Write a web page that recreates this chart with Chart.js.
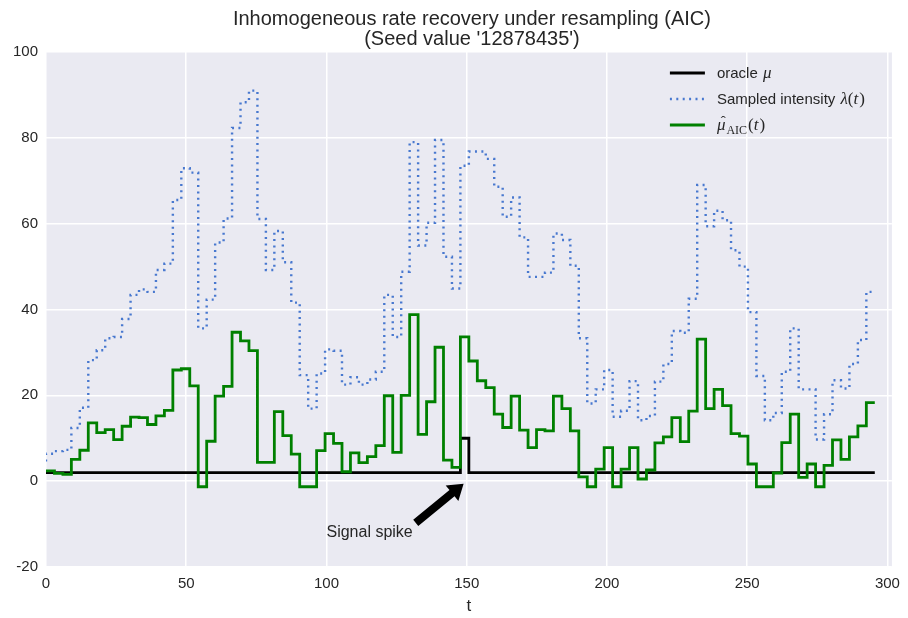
<!DOCTYPE html>
<html>
<head>
<meta charset="utf-8">
<script src="https://cdn.jsdelivr.net/npm/chart.js@4.4.1/dist/chart.umd.min.js"></script>
<style>
  html, body { margin: 0; padding: 0; background: #ffffff; }
  #wrap { width: 908px; height: 618px; position: relative; }
</style>
</head>
<body>
<div id="wrap"><canvas id="chart" width="908" height="618"></canvas></div>
<script>
// ---- time grid: 98 equal bins on [0, T_END] ----
const T_END = 295.5;
const N_BINS = 98;

// ---- axis ranges and ticks ----
const X_RANGE = [0, 301.6];
const Y_RANGE = [-20, 100];
const xTickValues = [0, 50, 100, 150, 200, 250, 300];
const yTickValues = [-20, 0, 20, 40, 60, 80, 100];

// ---- series: value at each bin edge (first entry is the starting point,
//      entry i holds the level over bin i-1) ----
const oracleMu = [
  2, 2, 2, 2, 2, 2, 2, 2, 2, 2,
  2, 2, 2, 2, 2, 2, 2, 2, 2, 2,
  2, 2, 2, 2, 2, 2, 2, 2, 2, 2,
  2, 2, 2, 2, 2, 2, 2, 2, 2, 2,
  2, 2, 2, 2, 2, 2, 2, 2, 2, 2,
  10, 2, 2, 2, 2, 2, 2, 2, 2, 2,
  2, 2, 2, 2, 2, 2, 2, 2, 2, 2,
  2, 2, 2, 2, 2, 2, 2, 2, 2, 2,
  2, 2, 2, 2, 2, 2, 2, 2, 2, 2,
  2, 2, 2, 2, 2, 2, 2, 2, 2
];

const sampledIntensity = [
  4.6,
  6.4, 7.0, 7.3, 12.4, 17.1, 28.2, 30.5, 33.3, 33.6, 37.8,
  43.4, 44.7, 44.1, 49.2, 50.7, 65.5, 72.9, 71.9, 35.6, 42.3,
  55.6, 61.2, 82.3, 88.3, 91.0, 61.1, 49.2, 58.3, 51.0, 41.6,
  24.7, 16.9, 25.1, 30.7, 30.4, 22.5, 24.2, 22.5, 23.7, 25.5,
  43.4, 33.6, 48.8, 79.0, 54.9, 60.2, 79.5, 52.3, 44.9, 73.5,
  76.8, 76.8, 75.1, 68.6, 61.6, 66.1, 56.8, 47.6, 47.6, 48.6,
  57.7, 56.2, 50.2, 33.3, 18.1, 21.4, 25.9, 15.0, 16.4, 23.3,
  14.2, 15.2, 23.2, 27.3, 35.0, 34.6, 42.5, 69.0, 59.4, 63.0,
  60.8, 53.8, 50.0, 39.4, 24.5, 14.2, 15.9, 25.5, 35.6, 21.4,
  21.4, 9.7, 15.6, 23.5, 21.6, 27.3, 32.9, 44.1
];

const muHatAIC = [
  2.4,
  2.4, 1.8, 1.6, 5.1, 7.2, 13.6, 11.3, 12.0, 9.7, 12.8,
  14.9, 14.8, 13.2, 15.2, 16.5, 25.9, 26.2, 22.2, -1.3, 9.3,
  19.8, 22.1, 34.7, 32.7, 30.4, 4.4, 4.4, 16.2, 10.6, 6.3,
  -1.3, -1.3, 7.1, 11.1, 8.8, 2.2, 6.6, 4.3, 5.7, 8.3,
  19.9, 6.7, 20.0, 38.8, 10.9, 18.5, 31.2, 4.9, 3.2, 33.6,
  28.0, 23.4, 21.8, 15.6, 12.5, 19.8, 11.9, 7.8, 12.0, 11.7,
  19.8, 16.9, 11.7, 1.0, -1.3, 2.8, 7.8, -1.3, 2.8, 7.8,
  0.5, 2.6, 8.9, 10.3, 14.8, 9.2, 16.3, 33.1, 16.9, 21.4,
  17.6, 11.1, 10.5, 4.0, -1.3, -1.3, 1.9, 9.0, 15.6, 0.9,
  4.0, -1.3, 3.7, 9.6, 5.1, 10.3, 12.9, 18.3
];

// ---- annotation ----
const annotationText = 'Signal spike';
const annotationTextAt = [100, -13];
const annotationTarget = [150, 0];

// ---- titles ----
const titleLines = ['Inhomogeneous rate recovery under resampling (AIC)', "(Seed value '12878435')"];
const xAxisTitle = 't';

const binEdges = Array.from({ length: N_BINS + 1 }, (_, i) => i * T_END / N_BINS);
const toPoints = vals => vals.map((v, i) => ({ x: binEdges[i], y: v }));

const TEXT_COLOR = '#262626';
const SANS = '"Liberation Sans", Arial, sans-serif';
const SERIF = '"Liberation Serif", "DejaVu Serif", serif';
const COLOR_ORACLE = '#000000';
const COLOR_LAMBDA = '#4878CF';
const COLOR_MUHAT = '#008000';
const SOLID_WIDTH = 2.8;
const DOT_WIDTH = 2.4;
const DOT_DASH = [2, 4.4];

// plot background
const backgroundPlugin = {
  id: 'plotBackground',
  beforeDraw(chart) {
    const { ctx, chartArea: a } = chart;
    ctx.save();
    ctx.fillStyle = '#EAEAF2';
    ctx.fillRect(a.left, a.top, a.right - a.left, a.bottom - a.top);
    ctx.restore();
  }
};

// title, legend with math labels, and the arrow annotation
const decorPlugin = {
  id: 'decor',
  afterDraw(chart) {
    const { ctx, chartArea: a, scales } = chart;
    ctx.save();

    // title
    ctx.fillStyle = TEXT_COLOR;
    ctx.textAlign = 'center';
    ctx.textBaseline = 'middle';
    ctx.font = `20px ${SANS}`;
    const cx = (a.left + a.right) / 2 + 3;
    ctx.fillText(titleLines[0], cx, a.top - 33);
    ctx.fillText(titleLines[1], cx, a.top - 13);

    // legend
    const lx0 = a.right - 222, lx1 = a.right - 187, tx = a.right - 175;
    const rows = [a.top + 21, a.top + 47, a.top + 73];
    ctx.lineCap = 'butt';

    ctx.strokeStyle = COLOR_ORACLE; ctx.lineWidth = SOLID_WIDTH; ctx.setLineDash([]);
    ctx.beginPath(); ctx.moveTo(lx0, rows[0]); ctx.lineTo(lx1, rows[0]); ctx.stroke();
    ctx.strokeStyle = COLOR_LAMBDA; ctx.lineWidth = DOT_WIDTH; ctx.setLineDash(DOT_DASH);
    ctx.beginPath(); ctx.moveTo(lx0, rows[1]); ctx.lineTo(lx1, rows[1]); ctx.stroke();
    ctx.strokeStyle = COLOR_MUHAT; ctx.lineWidth = SOLID_WIDTH; ctx.setLineDash([]);
    ctx.beginPath(); ctx.moveTo(lx0, rows[2]); ctx.lineTo(lx1, rows[2]); ctx.stroke();

    ctx.textAlign = 'left';
    ctx.textBaseline = 'alphabetic';
    ctx.fillStyle = TEXT_COLOR;
    const put = (txt, font, x, y) => { ctx.font = font; ctx.fillText(txt, x, y); return x + ctx.measureText(txt).width; };
    const sans = `15px ${SANS}`, it = `italic 17px ${SERIF}`, rm = `17px ${SERIF}`, sub = `12px ${SERIF}`;

    let x = put('oracle ', sans, tx, rows[0] + 5);
    put('\u03BC', it, x + 1, rows[0] + 5);

    x = put('Sampled intensity ', sans, tx, rows[1] + 5);
    x = put('\u03BB', it, x + 1, rows[1] + 5);
    x = put('(', rm, x, rows[1] + 5);
    x = put('t', it, x, rows[1] + 5);
    put(')', rm, x + 1, rows[1] + 5);

    x = tx;
    ctx.font = it;
    const muW = ctx.measureText('\u03BC').width;
    put('\u03BC', it, x, rows[2] + 5);
    ctx.font = `15px ${SERIF}`; ctx.textAlign = 'center';
    ctx.fillText('\u02C6', x + muW / 2 + 2, rows[2] + 1);
    ctx.textAlign = 'left';
    x = put('AIC', sub, x + muW + 1, rows[2] + 9);
    x = put('(', rm, x + 1, rows[2] + 5);
    x = put('t', it, x, rows[2] + 5);
    put(')', rm, x + 1, rows[2] + 5);

    // annotation text and arrow
    const xs = scales.x, ys = scales.y;
    const textX = xs.getPixelForValue(annotationTextAt[0]);
    const textY = ys.getPixelForValue(annotationTextAt[1]);
    ctx.font = `16px ${SANS}`;
    ctx.fillStyle = TEXT_COLOR;
    ctx.fillText(annotationText, textX, textY);
    const tw = ctx.measureText(annotationText).width;

    const tailX = textX + tw + 3, tailY = textY - 14;
    const px = xs.getPixelForValue(annotationTarget[0]);
    const py = ys.getPixelForValue(annotationTarget[1]);
    const dx = px - tailX, dy = py - tailY;
    const len = Math.hypot(dx, dy);
    const ux = dx / len, uy = dy / len, nx = -uy, ny = ux;
    const tipX = px - ux * 4, tipY = py - uy * 4;
    const headLen = 15, headHalf = 10, shaftHalf = 4;
    const bx = tipX - ux * headLen, by = tipY - uy * headLen;
    ctx.fillStyle = '#000000';
    ctx.beginPath();
    ctx.moveTo(tailX + nx * shaftHalf, tailY + ny * shaftHalf);
    ctx.lineTo(bx + nx * shaftHalf, by + ny * shaftHalf);
    ctx.lineTo(bx + nx * headHalf, by + ny * headHalf);
    ctx.lineTo(tipX, tipY);
    ctx.lineTo(bx - nx * headHalf, by - ny * headHalf);
    ctx.lineTo(bx - nx * shaftHalf, by - ny * shaftHalf);
    ctx.lineTo(tailX - nx * shaftHalf, tailY - ny * shaftHalf);
    ctx.closePath();
    ctx.fill();

    ctx.restore();
  }
};

const lineStyle = {
  pointRadius: 0,
  pointHoverRadius: 0,
  stepped: 'after',
  borderCapStyle: 'butt',
  borderJoinStyle: 'miter',
  fill: false
};

new Chart(document.getElementById('chart'), {
  type: 'line',
  data: {
    datasets: [
      { label: 'oracle \u03BC', data: toPoints(oracleMu), borderColor: COLOR_ORACLE, borderWidth: SOLID_WIDTH, order: 3, ...lineStyle },
      { label: 'Sampled intensity \u03BB(t)', data: toPoints(sampledIntensity), borderColor: COLOR_LAMBDA, borderWidth: DOT_WIDTH, borderDash: DOT_DASH, order: 2, ...lineStyle },
      { label: '\u03BC\u0302_AIC(t)', data: toPoints(muHatAIC), borderColor: COLOR_MUHAT, borderWidth: SOLID_WIDTH, order: 1, ...lineStyle }
    ]
  },
  options: {
    responsive: false,
    animation: false,
    devicePixelRatio: 1,
    layout: { padding: { top: 52, right: 13, left: 0, bottom: 0 } },
    plugins: { legend: { display: false }, tooltip: { enabled: false }, title: { display: false } },
    scales: {
      x: {
        type: 'linear',
        min: X_RANGE[0], max: X_RANGE[1],
        afterBuildTicks: s => { s.ticks = xTickValues.map(v => ({ value: v })); },
        afterFit: s => { s.height = 51; },
        grid: { color: '#ffffff', lineWidth: 1.5, drawTicks: false },
        border: { display: false },
        ticks: { color: TEXT_COLOR, font: { family: SANS, size: 15 }, padding: 8, maxRotation: 0 },
        title: { display: true, text: xAxisTitle, color: TEXT_COLOR, font: { family: SANS, size: 17 }, padding: { top: 0, bottom: 1 } }
      },
      y: {
        type: 'linear',
        min: Y_RANGE[0], max: Y_RANGE[1],
        afterBuildTicks: s => { s.ticks = yTickValues.map(v => ({ value: v })); },
        afterFit: s => { s.width = 46; },
        grid: { color: '#ffffff', lineWidth: 1.5, drawTicks: false },
        border: { display: false },
        ticks: { color: TEXT_COLOR, font: { family: SANS, size: 15 }, padding: 8 }
      }
    }
  },
  plugins: [backgroundPlugin, decorPlugin]
});
</script>
</body>
</html>
